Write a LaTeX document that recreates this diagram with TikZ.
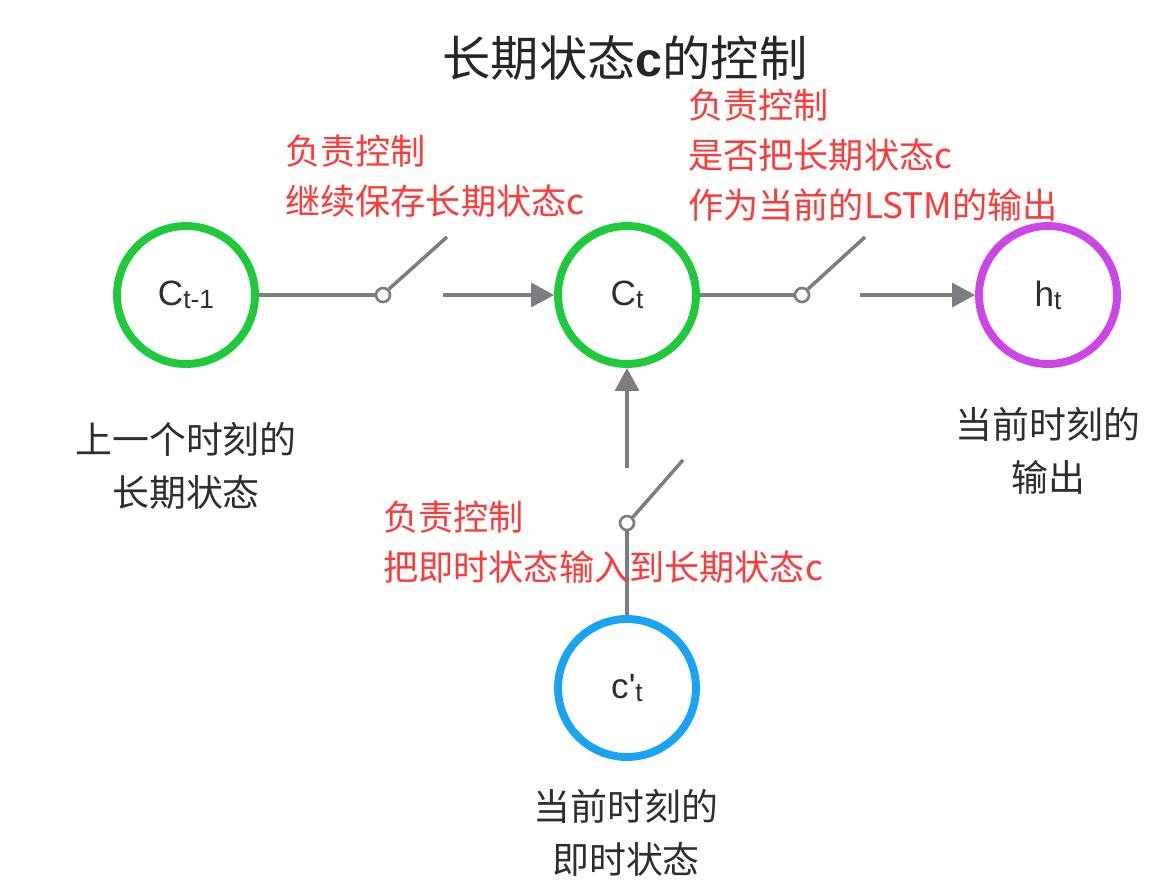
\documentclass[tikz,border=0pt]{standalone}
\usepackage{fontspec}
\setmainfont{Noto Sans CJK SC}
\newfontfamily\latinsf{Liberation Sans}
\usetikzlibrary{arrows.meta,positioning}
\definecolor{lstmgreen}{HTML}{1FC93C}
\definecolor{outpurple}{HTML}{CC45E6}
\definecolor{inblue}{HTML}{1AA3F2}
\definecolor{wiregray}{HTML}{7B7D80}
\definecolor{notered}{HTML}{FF3838}
\definecolor{darktext}{HTML}{2E2E2E}
\tikzset{
  state/.style={circle, draw, line width=4.5pt, minimum size=2.76cm, inner sep=0pt, font=\latinsf\fontsize{20}{24}\selectfont, text=darktext},
  gate/.style={circle, draw=wiregray, line width=1.5pt, fill=white, inner sep=0pt, minimum size=0.28cm},
  wire/.style={wiregray, line width=2pt},
  arr/.style={wire, -{Triangle[length=0.46cm, width=0.48cm]}},
  note/.style={anchor=west, align=left, inner sep=0pt, text=notered, font=\fontsize{20}{28.5}\selectfont},
  caption/.style={align=center, inner sep=0pt, text=darktext, font=\fontsize{21}{30}\selectfont},
}
\newcommand{\sub}[1]{\raisebox{-0.15ex}{\fontsize{15}{17}\selectfont #1}}

\begin{document}
\begin{tikzpicture}[x=0.02cm,y=-0.02cm]
  \useasboundingbox (0,0) rectangle (1162,893);
  \node[font=\fontsize{27.5}{32}\selectfont, text=black!85] (title) at (625,58) {长期状态{\latinsf\bfseries c}的控制};

  % the four states
  \node[state, draw=lstmgreen] (cprev) at (186,295) {C\sub{t-1}};
  \node[state, draw=lstmgreen] (ct) at (627,295) {C\sub{t}};
  \node[state, draw=outpurple] (ht) at (1048,295) {h\sub{t}};
  \node[state, draw=inblue] (cin) at (627,688) {c'\sub{t}};

  % gates (switches)
  \node[gate] (forget) at (383,295) {};
  \coordinate (forgetarm) at (447,237);
  \coordinate (forgetout) at (443,295);
  \node[gate] (output) at (802,295) {};
  \coordinate (outputarm) at (865,237);
  \coordinate (outputout) at (860,295);
  \node[gate] (input) at (627,523) {};
  \coordinate (inputarm) at (683,460);
  \coordinate (inputout) at (627,468);

  \draw[wire] (cprev) -- (forget);
  \draw[wire] (forget.45) -- (forgetarm);
  \draw[arr] (forgetout) -- (ct);
  \draw[wire] (ct) -- (output);
  \draw[wire] (output.45) -- (outputarm);
  \draw[arr] (outputout) -- (ht);
  \draw[wire] (cin) -- (input);
  \draw[wire] (input.45) -- (inputarm);
  \draw[arr] (inputout) -- (ct);

  % red notes
  \node[note] (forgetnote) at (285,176) {负责控制\\继续保存长期状态c};
  \node[note] (outputnote) at (688,155) {负责控制\\是否把长期状态c\\作为当前的LSTM的输出};
  \node[note] (inputnote) at (383,542) {负责控制\\把即时状态输入到长期状态c};

  % captions
  \node[caption] (cprevcap) at (186,466) {上一个时刻的\\长期状态};
  \node[caption] (htcap) at (1048,451) {当前时刻的\\输出};
  \node[caption] (cincap) at (626,833) {当前时刻的\\即时状态};
\end{tikzpicture}
\end{document}
